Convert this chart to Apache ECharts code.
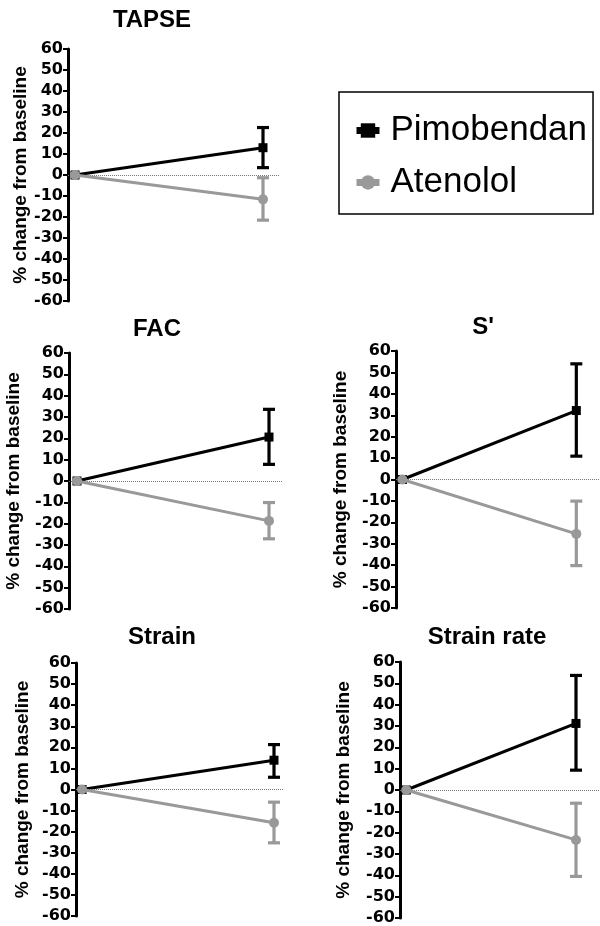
<!DOCTYPE html>
<html>
<head>
<meta charset="utf-8">
<script src="https://cdn.jsdelivr.net/npm/echarts@6/dist/echarts.min.js"></script>
<style>
html,body{margin:0;padding:0;background:#fff;}
#chart{width:600px;height:926px;}
</style>
</head>
<body>
<div id="chart"></div>
<script>
// ---- data ----
var panels = ['TAPSE', 'FAC', "S'", 'Strain', 'Strain rate'];
var timepoints = [0, 1]; // baseline, follow-up
var groups = ['Pimobendan', 'Atenolol'];
var yTicks = [-60, -50, -40, -30, -20, -10, 0, 10, 20, 30, 40, 50, 60];
var pimoMean = [13, 20.6, 32.2, 13.9, 31.2];
var pimoLow  = [3.5, 7.8, 10.9, 5.8, 9.3];
var pimoHigh = [22.6, 33.6, 54, 21.3, 53.7];
var atenMean = [-11.6, -18.7, -25.4, -15.8, -23.4];
var atenLow  = [-21.5, -27.1, -40.2, -25.3, -40.5];
var atenHigh = [-1.3, -10.1, -10.1, -6, -6.2];
var baselineValue = 0;

// ---- layout (pixels) ----
var layout = [
  {axisX: 68, top: 49,  bottom: 301, x0: 75,  x1: 263, xEnd: 280, tx: 152, ty: 20,  gap: 36},
  {axisX: 69, top: 353, bottom: 609, x0: 77,  x1: 269, xEnd: 282, tx: 157, ty: 329, gap: 46},
  {axisX: 396, top: 351, bottom: 608, x0: 403, x1: 594, xEnd: 620, tx: 483, ty: 327, gap: 46},
  {axisX: 76, top: 663, bottom: 916, x0: 82,  x1: 274, xEnd: 283, tx: 162, ty: 637, gap: 44},
  {axisX: 400, top: 662, bottom: 918, x0: 407, x1: 598, xEnd: 625, tx: 487, ty: 637, gap: 47}
];
var BLACK = '#000000';
var GRAY = '#999999';
var FONT = '"Liberation Sans", Arial, sans-serif';
var TICKFONT = '"DejaVu Sans", sans-serif';

var grids = [], xAxes = [], yAxes = [], titles = [], series = [];

function errorBarSeries(i, color, low, high) {
  return {
    type: 'custom',
    name: 'errorbar',
    xAxisIndex: i, yAxisIndex: i,
    silent: true,
    z: 3,
    itemStyle: {color: color},
    data: [[timepoints[1], low[i], high[i]]],
    encode: {x: 0, y: [1, 2]},
    renderItem: function (params, api) {
      var lo = api.coord([api.value(0), api.value(1)]);
      var hi = api.coord([api.value(0), api.value(2)]);
      var hw = 6;
      var st = {stroke: color, lineWidth: 3.2, fill: null};
      return {
        type: 'group',
        children: [
          {type: 'line', shape: {x1: lo[0], y1: lo[1], x2: hi[0], y2: hi[1]}, style: st},
          {type: 'line', shape: {x1: lo[0] - hw, y1: lo[1], x2: lo[0] + hw, y2: lo[1]}, style: st},
          {type: 'line', shape: {x1: hi[0] - hw, y1: hi[1], x2: hi[0] + hw, y2: hi[1]}, style: st}
        ]
      };
    }
  };
}

panels.forEach(function (p, i) {
  var L = layout[i];
  var unit = L.x1 - L.x0;
  grids.push({left: L.axisX, top: L.top, width: L.xEnd - L.axisX, height: L.bottom - L.top, containLabel: false});
  xAxes.push({
    type: 'value', gridIndex: i, show: false,
    min: -(L.x0 - L.axisX) / unit, max: (L.xEnd - L.x0) / unit
  });
  yAxes.push({
    type: 'value', gridIndex: i,
    min: yTicks[0], max: yTicks[yTicks.length - 1], interval: 10,
    name: '% change from baseline',
    nameLocation: 'middle', nameRotate: 90, nameGap: L.gap,
    nameTextStyle: {fontFamily: FONT, fontWeight: 'bold', fontSize: 19, color: BLACK},
    axisLine: {show: true, onZero: false, lineStyle: {color: BLACK, width: 3}},
    axisTick: {show: true, length: 5, lineStyle: {color: BLACK, width: 2}},
    splitLine: {show: false},
    axisLabel: {fontFamily: TICKFONT, fontWeight: 'bold', fontSize: 16, color: BLACK, margin: 5}
  });
  titles.push({
    text: p, left: L.tx, top: L.ty, textAlign: 'center', textVerticalAlign: 'middle',
    padding: 0,
    textStyle: {fontFamily: FONT, fontWeight: 'bold', fontSize: 24, color: BLACK}
  });
  series.push(errorBarSeries(i, BLACK, pimoLow, pimoHigh));
  series.push({
    type: 'line', name: groups[0], xAxisIndex: i, yAxisIndex: i,
    data: [[timepoints[0], baselineValue], [timepoints[1], pimoMean[i]]],
    symbol: 'rect', symbolSize: 9, showSymbol: true,
    lineStyle: {color: BLACK, width: 3}, itemStyle: {color: BLACK},
    z: 4, silent: true, animation: false,
    markLine: {
      silent: true, symbol: 'none', label: {show: false},
      lineStyle: {color: '#777777', width: 1, type: 'dotted'},
      data: [{yAxis: 0}]
    }
  });
  series.push(errorBarSeries(i, GRAY, atenLow, atenHigh));
  series.push({
    type: 'line', name: groups[1], xAxisIndex: i, yAxisIndex: i,
    data: [[timepoints[0], baselineValue], [timepoints[1], atenMean[i]]],
    symbol: 'circle', symbolSize: 10, showSymbol: true,
    lineStyle: {color: GRAY, width: 3}, itemStyle: {color: GRAY},
    z: 5, silent: true, animation: false
  });
});

var chart = echarts.init(document.getElementById('chart'), null, {renderer: 'canvas'});
chart.setOption({
  backgroundColor: '#ffffff',
  animation: false,
  title: titles,
  grid: grids,
  xAxis: xAxes,
  yAxis: yAxes,
  legend: {
    data: groups,
    orient: 'vertical',
    left: 339, top: 92,
    padding: [21, 6, 14, 14],
    itemGap: 17,
    itemWidth: 23, itemHeight: 18,
    lineStyle: {width: 7},
    borderColor: BLACK, borderWidth: 1.5,
    selectedMode: false,
    textStyle: {fontFamily: FONT, fontSize: 35, color: BLACK, padding: [0, 0, 0, 6]}
  },
  series: series
});
</script>
</body>
</html>
